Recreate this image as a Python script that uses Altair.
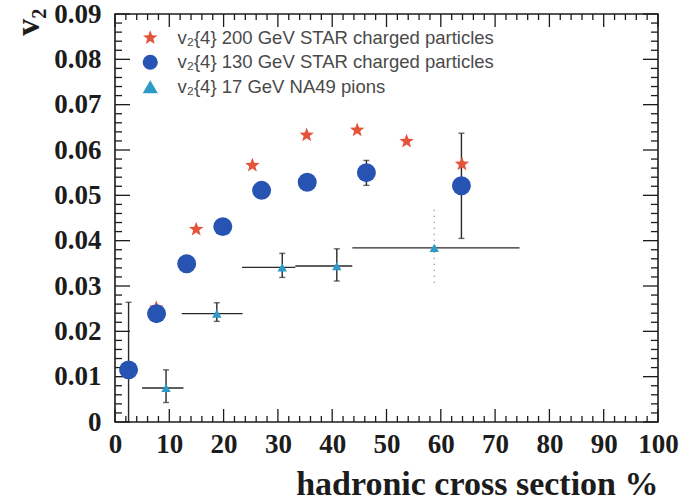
import math
import altair as alt
import pandas as pd

# ---------------- data ----------------
series_names = [
    "v₂{4} 200 GeV STAR charged particles",
    "v₂{4} 130 GeV STAR charged particles",
    "v₂{4} 17 GeV NA49 pions",
]

cent_200 = [7.6, 14.95, 25.3, 35.3, 44.6, 53.7, 63.9]
v2_200 = [0.0252, 0.0425, 0.0566, 0.0633, 0.0644, 0.0619, 0.0569]

cent_130 = [2.5, 7.65, 13.2, 19.85, 27.0, 35.4, 46.3, 63.8]
v2_130 = [0.0115, 0.0239, 0.0349, 0.0431, 0.0511, 0.0529, 0.0550, 0.0521]
v2_130_lo = [0.0, 0.0224, 0.0349, 0.0431, 0.0511, 0.0529, 0.0522, 0.0405]
v2_130_hi = [0.0264, 0.0254, 0.0349, 0.0431, 0.0511, 0.0529, 0.0577, 0.0637]

cent_17 = [9.4, 18.75, 30.8, 40.85, 58.8]
cent_17_lo = [5.0, 12.3, 23.4, 33.2, 43.7]
cent_17_hi = [12.6, 23.5, 33.2, 43.7, 74.5]
v2_17 = [0.0075, 0.0239, 0.0341, 0.0344, 0.0384]
v2_17_lo = [0.0043, 0.0222, 0.0319, 0.0311, 0.0307]
v2_17_hi = [0.0115, 0.0263, 0.0372, 0.0382, 0.0469]

x_major = [0, 10, 20, 30, 40, 50, 60, 70, 80, 90, 100]
x_minor = [v for v in range(0, 101, 2) if v % 10 != 0]
y_major = [0.0, 0.01, 0.02, 0.03, 0.04, 0.05, 0.06, 0.07, 0.08, 0.09]
y_minor = [round(i * 0.002, 3) for i in range(46) if i % 5 != 0]

# ---------------- tables ----------------
pts = pd.DataFrame(
    {
        "series": [series_names[0]] * len(cent_200)
        + [series_names[1]] * len(cent_130)
        + [series_names[2]] * len(cent_17),
        "k": [0] * len(cent_200) + [1] * len(cent_130) + [2] * len(cent_17),
        "cent": cent_200 + cent_130 + cent_17,
        "v2": v2_200 + v2_130 + v2_17,
    }
)
e130 = pd.DataFrame({"cent": cent_130, "lo": v2_130_lo, "hi": v2_130_hi})
e130 = e130[e130["hi"] > e130["lo"]]
e17 = pd.DataFrame(
    {
        "idx": list(range(len(cent_17))),
        "cent": cent_17,
        "v2": v2_17,
        "xlo": cent_17_lo,
        "xhi": cent_17_hi,
        "lo": v2_17_lo,
        "hi": v2_17_hi,
    }
)
vbars = pd.concat([e130.assign(idx=-1), e17[["idx", "cent", "lo", "hi"]]], ignore_index=True)

W, H = 543, 408
SERIF = "Liberation Serif"
INK = "#1c1c1c"

# five-pointed star as a unit SVG path (symbol shape)
_star_pts = []
for i in range(10):
    r = 1.0 if i % 2 == 0 else 0.42
    a = math.radians(-90 + 36 * i)
    _star_pts.append(f"{r * math.cos(a):.4f},{r * math.sin(a):.4f}")
STAR = "M" + "L".join(_star_pts) + "Z"

xs = alt.Scale(domain=[0, 100], nice=False, zero=False)
ys = alt.Scale(domain=[0, 0.09], nice=False, zero=False)

xaxis = alt.Axis(
    orient="bottom", values=x_major, ticks=False, domain=False, grid=False,
    labelFont=SERIF, labelFontWeight="bold", labelFontSize=27, labelColor=INK,
    labelPadding=9, labelFlush=False, labelOverlap=False,
    title="hadronic cross section %", titleFont=SERIF, titleFontWeight="bold",
    titleFontSize=34, titleColor=INK, titleAnchor="end", titlePadding=10,
)
yaxis = alt.Axis(
    orient="left", values=y_major, ticks=False, domain=False, grid=False,
    labelExpr="datum.value == 0 ? '0' : format(datum.value, '.2f')",
    labelFont=SERIF, labelFontWeight="bold", labelFontSize=27, labelColor=INK,
    labelPadding=14, labelFlush=False, labelOverlap=False,
    title="v₂", titleFont=SERIF, titleFontWeight="bold", titleFontSize=34,
    titleColor=INK, titleAngle=-90, titleAlign="right", titleBaseline="middle",
    titleX=-87, titleY=-6,
)

def X(f):
    return alt.X(f, type="quantitative", scale=xs, axis=xaxis)

def Y(f):
    return alt.Y(f, type="quantitative", scale=ys, axis=yaxis)

# ---------------- frame ticks (inward) ----------------
def xt(vals, y0, y1):
    return alt.Chart(pd.DataFrame({"t": vals})).mark_rule(color=INK, strokeWidth=1.3).encode(
        x=X("t"), y=alt.value(y0), y2=alt.value(y1)
    )

def yt(vals, x0, x1):
    return alt.Chart(pd.DataFrame({"t": vals})).mark_rule(color=INK, strokeWidth=1.3).encode(
        y=Y("t"), x=alt.value(x0), x2=alt.value(x1)
    )

ticks = [
    xt(x_major, H, H - 13), xt(x_minor, H, H - 6),
    xt(x_major, 0, 13), xt(x_minor, 0, 6),
    yt(y_major, 0, 15), yt(y_minor, 0, 7),
    yt(y_major, W, W - 15), yt(y_minor, W, W - 7),
]

# ---------------- error bars ----------------
ebar = "#2a2a2a"
v_solid = alt.Chart(vbars).transform_filter("datum.idx != 4").mark_rule(
    color=ebar, strokeWidth=1.4
).encode(x=X("cent"), y=Y("lo"), y2="hi")
v_dot = alt.Chart(vbars).transform_filter("datum.idx == 4").mark_rule(
    color="#777777", strokeWidth=1.2, strokeDash=[1, 5]
).encode(x=X("cent"), y=Y("lo"), y2="hi")
caps_lo = alt.Chart(vbars).transform_filter("datum.idx != 4 && datum.lo > 0").mark_tick(
    color=ebar, thickness=1.4, size=6, orient="horizontal"
).encode(x=X("cent"), y=Y("lo"))
caps_hi = alt.Chart(vbars).transform_filter("datum.idx != 4").mark_tick(
    color=ebar, thickness=1.4, size=6, orient="horizontal"
).encode(x=X("cent"), y=Y("hi"))
h_bars = alt.Chart(e17).mark_rule(color=ebar, strokeWidth=1.4).encode(
    x=X("xlo"), x2="xhi", y=Y("v2")
)

# ---------------- markers ----------------
color_enc = alt.Color(
    "series:N",
    scale=alt.Scale(domain=series_names, range=["#e4533a", "#2753b3", "#2b9bc7"]),
    legend=alt.Legend(
        title=None, orient="none", legendX=26, legendY=14.5,
        labelFont="Liberation Sans", labelFontSize=18.5, labelColor="#4a4a4a",
        labelOffset=18, labelLimit=0, rowPadding=5.5, padding=0, symbolSize=230,
        symbolStrokeWidth=0, symbolOpacity=1,
    ),
)
shape_enc = alt.Shape(
    "series:N",
    scale=alt.Scale(domain=series_names, range=[STAR, "circle", "triangle-up"]),
)

def marker_layer(k, size):
    return alt.Chart(pts).transform_filter(f"datum.k == {k}").mark_point(
        filled=True, opacity=1, size=size
    ).encode(x=X("cent"), y=Y("v2"), color=color_enc, shape=shape_enc)

markers = [marker_layer(0, 230), marker_layer(1, 360), marker_layer(2, 90)]

chart = alt.layer(
    *ticks, v_solid, v_dot, caps_lo, caps_hi, h_bars, *markers
).properties(
    width=W, height=H, background="white",
    autosize=alt.AutoSizeParams(type="none"),
    padding={"left": 115, "top": 14, "right": 24, "bottom": 81},
).configure_view(stroke=INK, strokeWidth=1.6)

chart.save("out.html", embed_options={"renderer": "svg", "actions": False})
